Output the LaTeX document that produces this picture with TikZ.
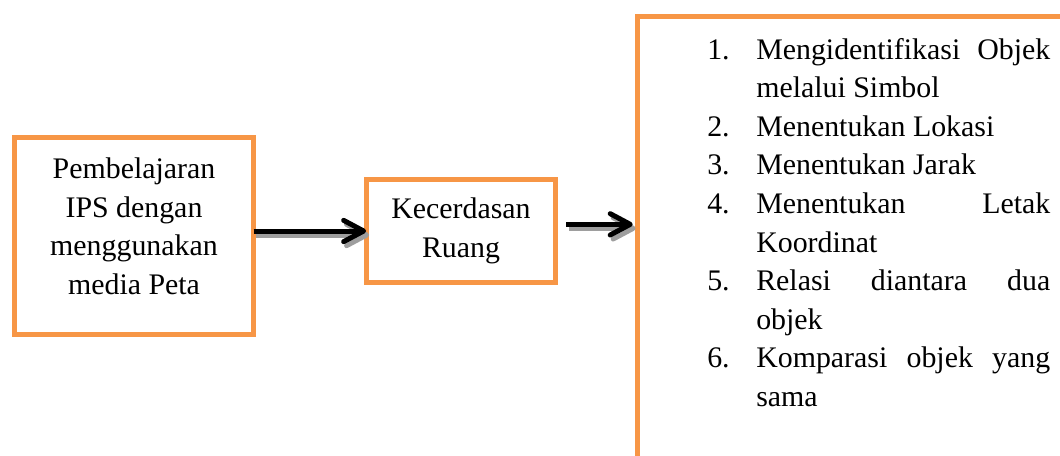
\documentclass[tikz,border=0pt]{standalone}
\usepackage{fontspec}
\setmainfont{Liberation Serif}
\usetikzlibrary{arrows.meta,calc}
\definecolor{boxorange}{HTML}{F79646}
\definecolor{shadowgray}{HTML}{9E9E9E}

\tikzset{
  framebox/.style={draw=boxorange, line width=3.75pt, outer sep=0pt, inner sep=0pt},
  txt/.style={font=\fontsize{22.4pt}{28.9pt}\selectfont, inner sep=0pt, align=center},
  itemtxt/.style={font=\fontsize{22.4pt}{28.9pt}\selectfont, inner sep=0pt, anchor=base west},
  flow/.style={line width=3.75pt, line join=round,
    -{Straight Barb[length=15pt,width=16pt,round]}},
  flowshadow/.style={flow, draw=shadowgray, transform canvas={xshift=2.2pt,yshift=-3pt}},
}
\newcommand{\justline}[1]{\hbox to 220.5pt{#1}}

\begin{document}
\begin{tikzpicture}[x=0.75pt,y=-0.75pt]
\useasboundingbox (0,0) rectangle (1060,455);

% boxes
\node[framebox, minimum width=179.25pt, minimum height=147.4pt] (ips) at (134,236) {};
\node[txt, anchor=north] (ipstext) at (134,157.6)
  {Pembelajaran\\IPS dengan\\menggunakan\\media Peta};

\node[framebox, minimum width=142.3pt, minimum height=77.25pt] (mid) at (461,231) {};
\node[txt, anchor=north] (midtext) at (461,197.6) {Kecerdasan\\Ruang};

\node[framebox, anchor=north west, minimum width=337.5pt, minimum height=360pt] (list) at (637.5,16) {};

% numbered list
\node[itemtxt] (n1) at (707,59.0)  {1.};
\node[itemtxt] (l1) at (756,59.0)  {\justline{Mengidentifikasi\hfill Objek}};
\node[itemtxt] (l2) at (756,97.6)  {melalui Simbol};
\node[itemtxt] (n2) at (707,136.2) {2.};
\node[itemtxt] (l3) at (756,136.2) {Menentukan Lokasi};
\node[itemtxt] (n3) at (707,174.8) {3.};
\node[itemtxt] (l4) at (756,174.8) {Menentukan Jarak};
\node[itemtxt] (n4) at (707,213.4) {4.};
\node[itemtxt] (l5) at (756,213.4) {\justline{Menentukan\hfill Letak}};
\node[itemtxt] (l6) at (756,252.0) {Koordinat};
\node[itemtxt] (n5) at (707,290.6) {5.};
\node[itemtxt] (l7) at (756,290.6) {\justline{Relasi\hfill diantara\hfill dua}};
\node[itemtxt] (l8) at (756,329.2) {objek};
\node[itemtxt] (n6) at (707,367.8) {6.};
\node[itemtxt] (l9) at (756,367.8) {\justline{Komparasi\hfill objek\hfill yang}};
\node[itemtxt] (l10) at (756,406.4) {sama};

% arrows with drop shadow
\draw[flowshadow] (ips.east |- mid.west) -- (mid.west);
\draw[flow] (ips.east |- mid.west) -- (mid.west);

\coordinate (a2) at ([yshift=5pt]mid.east);
\draw[flowshadow, shorten <=7.7pt, shorten >=3.6pt] (a2) -- (a2 -| list.west);
\draw[flow, shorten <=7.7pt, shorten >=3.6pt] (a2) -- (a2 -| list.west);
\end{tikzpicture}
\end{document}
